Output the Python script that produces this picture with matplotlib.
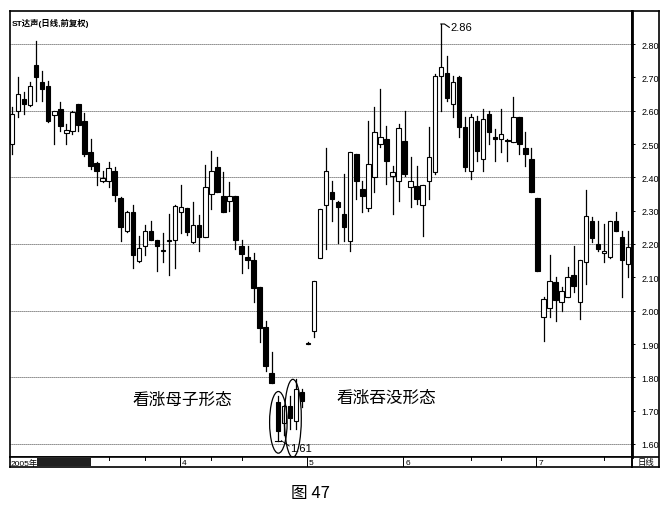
import matplotlib
matplotlib.use('Agg')
import matplotlib.pyplot as plt
from matplotlib.patches import Rectangle, Ellipse
from matplotlib.lines import Line2D

# ---------------- data (daily OHLC) ----------------
opens = [2.50, 2.60, 2.635, 2.617, 2.737, 2.686, 2.674, 2.587, 2.605, 2.533,
         2.539, 2.62, 2.569, 2.476, 2.443, 2.39, 2.389, 2.419, 2.338, 2.238,
         2.295, 2.148, 2.193, 2.238, 2.211, 2.18, 2.21, 2.211, 2.295, 2.307,
         2.205, 2.256, 2.22, 2.35, 2.43, 2.343, 2.328, 2.343, 2.193, 2.16,
         2.151, 2.07, 1.95, 1.812, 1.725, 1.662, 1.713, 1.668, 1.755, 1.90,
         1.94, 2.157, 2.316, 2.356, 2.325, 2.29, 2.208, 2.47, 2.365, 2.307,
         2.40, 2.50, 2.515, 2.405, 2.39, 2.51, 2.37, 2.374, 2.316, 2.39,
         2.416, 2.704, 2.713, 2.62, 2.70, 2.55, 2.42, 2.569, 2.455, 2.59,
         2.52, 2.515, 2.512, 2.505, 2.58, 2.488, 2.455, 2.338, 1.98, 2.007,
         2.085, 2.025, 2.04, 2.106, 2.025, 2.145, 2.27, 2.199, 2.172, 2.16,
         2.268, 2.22, 2.139]
highs = [2.61, 2.70, 2.655, 2.686, 2.81, 2.72, 2.69, 2.60, 2.626, 2.56,
         2.60, 2.62, 2.593, 2.515, 2.446, 2.42, 2.446, 2.43, 2.34, 2.30,
         2.316, 2.223, 2.256, 2.27, 2.211, 2.232, 2.29, 2.316, 2.377, 2.307,
         2.325, 2.286, 2.436, 2.48, 2.46, 2.416, 2.385, 2.343, 2.211, 2.193,
         2.172, 2.07, 1.968, 1.875, 1.743, 1.716, 1.743, 1.794, 1.764, 1.905,
         2.09, 2.305, 2.488, 2.39, 2.33, 2.41, 2.476, 2.47, 2.39, 2.57,
         2.61, 2.665, 2.555, 2.434, 2.56, 2.60, 2.46, 2.434, 2.377, 2.55,
         2.71, 2.86, 2.764, 2.704, 2.704, 2.58, 2.59, 2.585, 2.605, 2.60,
         2.545, 2.605, 2.515, 2.64, 2.58, 2.535, 2.488, 2.338, 2.04, 2.166,
         2.10, 2.07, 2.13, 2.193, 2.151, 2.362, 2.28, 2.27, 2.26, 2.268,
         2.295, 2.238, 2.238]
lows = [2.47, 2.58, 2.59, 2.614, 2.63, 2.63, 2.566, 2.50, 2.54, 2.50,
        2.53, 2.54, 2.464, 2.425, 2.377, 2.385, 2.37, 2.33, 2.21, 2.235,
        2.127, 2.145, 2.166, 2.211, 2.118, 2.145, 2.106, 2.127, 2.232, 2.226,
        2.202, 2.18, 2.22, 2.305, 2.356, 2.295, 2.30, 2.184, 2.112, 2.127,
        2.025, 1.905, 1.818, 1.782, 1.61, 1.626, 1.644, 1.644, 1.71, 1.90,
        1.92, 2.157, 2.184, 2.268, 2.202, 2.208, 2.178, 2.335, 2.295, 2.30,
        2.356, 2.49, 2.38, 2.29, 2.33, 2.404, 2.31, 2.32, 2.223, 2.335,
        2.41, 2.60, 2.63, 2.58, 2.52, 2.42, 2.395, 2.45, 2.42, 2.50,
        2.45, 2.475, 2.45, 2.505, 2.47, 2.435, 2.356, 2.118, 1.908, 1.98,
        1.97, 2.00, 2.04, 2.055, 1.974, 2.079, 2.205, 2.178, 2.145, 2.157,
        2.238, 2.04, 2.10]
closes = [2.59, 2.65, 2.62, 2.674, 2.70, 2.665, 2.569, 2.60, 2.554, 2.542,
          2.596, 2.557, 2.47, 2.434, 2.419, 2.398, 2.428, 2.347, 2.25, 2.295,
          2.166, 2.187, 2.238, 2.211, 2.193, 2.182, 2.213, 2.313, 2.31, 2.235,
          2.256, 2.22, 2.37, 2.419, 2.356, 2.295, 2.343, 2.211, 2.17, 2.151,
          2.067, 1.947, 1.833, 1.782, 1.638, 1.713, 1.677, 1.764, 1.728, 1.902,
          2.09, 2.305, 2.42, 2.335, 2.31, 2.25, 2.476, 2.39, 2.344, 2.44,
          2.535, 2.52, 2.45, 2.416, 2.548, 2.41, 2.39, 2.335, 2.377, 2.46,
          2.704, 2.73, 2.638, 2.686, 2.55, 2.43, 2.58, 2.48, 2.575, 2.536,
          2.515, 2.53, 2.508, 2.58, 2.50, 2.47, 2.356, 2.118, 2.034, 2.09,
          2.031, 2.058, 2.10, 2.073, 2.151, 2.283, 2.217, 2.184, 2.178, 2.268,
          2.238, 2.151, 2.19]

price_ticks = [2.80, 2.70, 2.60, 2.50, 2.40, 2.30, 2.20, 2.10, 2.00, 1.90, 1.80, 1.70, 1.60]
price_tick_labels = ['2.80', '2.70', '2.60', '2.50', '2.40', '2.30', '2.20',
                     '2.10', '2.00', '1.90', '1.80', '1.70', '1.60']
grid_levels = [2.80, 2.60, 2.40, 2.20, 2.00, 1.80, 1.60]
month_idx = [28, 49, 65, 87]
month_labels = ['4', '5', '6', '7']
minor_idx = [16, 22, 33, 38, 76, 81, 98]
title_text = 'ST达声(日线,前复权)'
year_text = '2005年'
period_text = '日线'
high_label = '2.86'
low_label = '1.61'
harami_text = '看涨母子形态'
engulf_text = '看涨吞没形态'
caption = '图 47'

# ---------------- layout ----------------
W, H = 670, 510
def fx(px):
    return px / W
def fy(py):
    return 1 - py / H

plt.rcParams['font.family'] = ['Liberation Sans', 'Noto Sans CJK SC', 'DejaVu Sans']
fig = plt.figure(figsize=(6.7, 5.1), dpi=100)
fig.patch.set_facecolor('white')

ax = fig.add_axes([fx(10), fy(458), fx(632) - fx(10), fy(12) - fy(458)])
ax.set_xlim(-0.33, 102.65)
ax.set_ylim(1.561, 2.899)

for lvl in grid_levels:
    ax.axhline(lvl, color='black', lw=0.6, ls=(0, (1, 1.4)), zorder=1)

n = len(opens)
for i in range(n):
    o, h, l, c = opens[i], highs[i], lows[i], closes[i]
    ax.add_line(Line2D([i, i], [l, h], color='black', lw=0.9, zorder=2))
    bottom = min(o, c)
    height = abs(c - o)
    face = 'white' if c >= o else 'black'
    ax.add_patch(Rectangle((i - 0.37, bottom), 0.74, height, facecolor=face,
                           edgecolor='black', lw=0.8, zorder=3))

# annotations
ax.plot([71, 71.6, 72.4], [highs[71], highs[71], 2.850], color='black', lw=0.8, zorder=4)
ax.text(72.6, 2.851, high_label, fontsize=8, ha='left', va='center', zorder=5)
ax.plot([43.6, 44.6], [lows[44], lows[44]], color='black', lw=0.8, zorder=4)
ax.plot([44.6, 45.9], [lows[44], 1.594], color='black', lw=0.6, zorder=4)
ax.text(46.0, 1.588, low_label, fontsize=8, ha='left', va='center', zorder=5)

ax.add_patch(Ellipse((44.1, 1.665), 2.9, 0.185, fill=False, edgecolor='black', lw=0.9, zorder=4))
ax.add_patch(Ellipse((46.5, 1.677), 2.8, 0.234, fill=False, edgecolor='black', lw=0.9, zorder=4))

ax.text(28.2, 1.734, harami_text, fontsize=12, ha='center', va='center',
        family=['Noto Sans CJK SC'])
ax.text(62.0, 1.740, engulf_text, fontsize=12, ha='center', va='center',
        family=['Noto Sans CJK SC'])

ax.text(0.002, 0.985, title_text, transform=ax.transAxes, fontsize=6, fontweight='bold',
        ha='left', va='top')

# axes styling
ax.yaxis.tick_right()
ax.set_yticks(price_ticks)
ax.set_yticklabels(price_tick_labels)
ax.tick_params(axis='y', direction='out', length=2.5, width=0.7, pad=4.5, labelsize=6.5)
ax.set_xticks([])
for side in ['left', 'top', 'bottom']:
    ax.spines[side].set_linewidth(1.2)
ax.spines['right'].set_linewidth(2.0)

# bottom date strip
sx = fig.add_axes([fx(10), fy(468), fx(632) - fx(10), fy(458) - fy(468)])
sx.set_xlim(-0.33, 102.65)
sx.set_ylim(0, 1)
sx.set_xticks([])
sx.set_yticks([])
for s in sx.spines.values():
    s.set_linewidth(1.2)
sx.text(-0.2, 0.45, year_text, fontsize=6, ha='left', va='center')
sx.add_patch(Rectangle((4.1, 0.1), 8.9, 0.8, facecolor='#202020', edgecolor='none'))
for mi, ml in zip(month_idx, month_labels):
    sx.plot([mi - 0.2, mi - 0.2], [0, 1], color='black', lw=0.7)
    sx.text(mi + 0.1, 0.45, ml, fontsize=6, ha='left', va='center')
for mi in minor_idx:
    sx.plot([mi, mi], [0.75, 1], color='black', lw=0.7)

# right price panel
rx = fig.add_axes([fx(632), fy(468), fx(659) - fx(632), fy(12) - fy(468)])
rx.set_facecolor('none')
rx.set_xlim(0, 1)
rx.set_ylim(0, 1)
rx.set_xticks([])
rx.set_yticks([])
for s in rx.spines.values():
    s.set_linewidth(1.2)
rx.axhline(10 / 456, color='black', lw=1.2)
rx.text(0.5, 5 / 456, period_text, fontsize=6, ha='center', va='center',
        family=['Noto Sans CJK SC'])

fig.text(fx(310), fy(494), caption, fontsize=12, ha='center', va='center',
         family=['Noto Sans CJK SC', 'DejaVu Sans'])

fig.savefig('out.png', dpi=100)
